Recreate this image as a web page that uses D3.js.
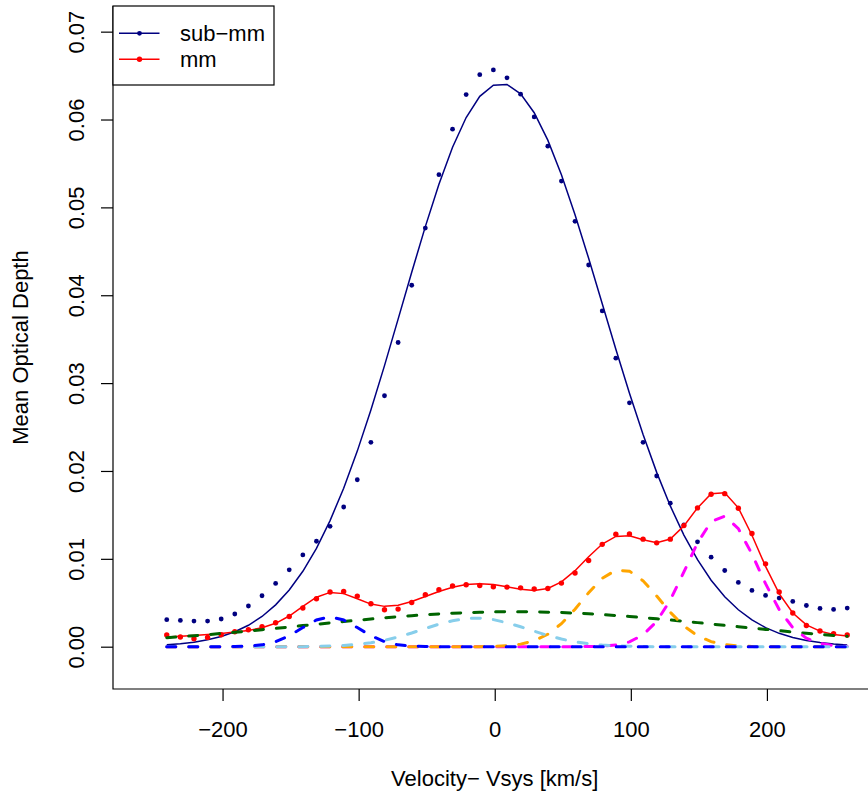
<!DOCTYPE html>
<html><head><meta charset="utf-8">
<script src="https://cdn.jsdelivr.net/npm/d3@7"></script>
<style>
html,body{margin:0;padding:0;background:#fff;}
svg{display:block;}
text{font-family:"Liberation Sans",Arial,Helvetica,sans-serif;fill:#000;}
</style></head>
<body>
<script>
// ---- data ----
const velocity = [-241,-231,-221,-211,-201,-191,-181,-171,-161,-151,-141,-131,-121,-111,-101,-91,-81,-71,-61,-51,-41,-31,-21,-11,-1,9,19,29,39,49,59,69,79,89,99,109,119,129,139,149,159,169,179,189,199,209,219,229,239,249,259];

const subObs = [0.00307,0.00299,0.00292,0.00292,0.00315,0.00372,0.00463,0.0058,0.0072,0.00875,
0.01045,0.0120,0.0137,0.0159,0.0190,0.02326,0.02856,0.03462,0.04114,0.04765,
0.05372,0.0589,0.06284,0.0651,0.06565,0.06474,0.06288,0.0603,0.05697,0.05299,
0.04841,0.04344,0.03822,0.03284,0.02776,0.02326,0.01943,0.01633,0.01386,0.01193,
0.01019,0.00867,0.00731,0.0064,0.00583,0.00553,0.00515,0.00469,0.00435,0.00424,0.0044];

const subFit = [0.00021,0.00033,0.00051,0.00078,0.00116,0.0017,0.00244,0.00344,0.00476,0.00645,
0.00858,0.0112,0.01435,0.01804,0.02226,0.02694,0.03199,0.03728,0.04262,0.04781,
0.05263,0.05684,0.06023,0.06264,0.06391,0.06399,0.06292,0.06077,0.05765,0.05372,
0.04917,0.0442,0.03904,0.03386,0.02885,0.02414,0.01984,0.01602,0.0127,0.0099,
0.00757,0.00569,0.0042,0.00305,0.00217,0.00152,0.00104,0.0007,0.00047,0.0003,0.00019];

const mmObs = [0.00133,0.00110,0.00091,0.00106,0.00136,0.00170,0.00193,0.00227,0.00273,0.00344,
0.00440,0.00545,0.00622,0.00628,0.00576,0.00489,0.00420,0.00428,0.00503,0.00591,
0.00648,0.00690,0.00705,0.00697,0.00682,0.00678,0.00670,0.00656,0.00663,0.00724,
0.00838,0.00981,0.01165,0.01281,0.01284,0.01224,0.01182,0.01224,0.01378,0.01580,
0.01735,0.01742,0.01576,0.01288,0.00943,0.00622,0.00383,0.00242,0.00178,0.00148,0.00133];

const mmFit = [0.00110,0.00118,0.00127,0.00138,0.00151,0.00166,0.00185,0.00215,0.00266,0.00349,
0.00458,0.00563,0.00618,0.00604,0.00545,0.00485,0.00459,0.00473,0.00515,0.00572,
0.00629,0.00677,0.00708,0.00717,0.00708,0.00682,0.00653,0.0064,0.00663,0.00738,
0.00865,0.01023,0.01168,0.01255,0.01263,0.01218,0.01182,0.01226,0.01375,0.0158,
0.0174,0.01752,0.0158,0.01269,0.00914,0.00604,0.00383,0.00249,0.00177,0.00139,0.00122];

const compBlue = [0,0,0,0,0,0.000015,0.000062,0.00021,0.00058,0.00125,
0.00218,0.00304,0.0034,0.00304,0.00218,0.00125,0.00058,0.00021,0.000062,0.000015,
0,0,0,0,0,0,0,0,0,0,
0,0,0,0,0,0,0,0,0,0,
0,0,0,0,0,0,0,0,0,0,0];

const compSky = [0,0,0,0,0,0,0,0,0,0,
0,0.000034,0.000072,0.00014,0.00026,0.00045,0.00073,0.0011,0.00156,0.00207,
0.00256,0.00296,0.00321,0.00325,0.00308,0.00273,0.00227,0.00176,0.00128,0.00087,
0.00055,0.00033,0.00018,0.000095,0.000046,0.00002,0,0,0,0,
0,0,0,0,0,0,0,0,0,0,0];

const compOrange = [0,0,0,0,0,0,0,0,0,0,
0,0,0,0,0,0,0,0,0,0,
0,0,0,0,0.000035,0.00011,0.00029,0.00068,0.00142,0.00262,
0.00427,0.00614,0.00779,0.00871,0.0086,0.0075,0.00577,0.00392,0.00235,0.00124,
0.00058,0.00024,0.000087,0.000028,0,0,0,0,0,0,0];

const compMagenta = [0,0,0,0,0,0,0,0,0,0,
0,0,0,0,0,0,0,0,0,0,
0,0,0,0,0,0,0,0,0,0,
0,0.000016,0.000059,0.00019,0.00055,0.00135,0.00287,0.00531,0.00851,0.01182,
0.01423,0.01486,0.01344,0.01055,0.00717,0.00423,0.00216,0.00096,0.00037,0.00012,0.000035];

const compGreen = [0.00102,0.00113,0.00125,0.00137,0.00151,0.00164,0.00179,0.00194,0.00209,0.00224,
0.0024,0.00255,0.00271,0.00286,0.00301,0.00315,0.00329,0.00341,0.00353,0.00364,
0.00373,0.00381,0.00387,0.00392,0.00396,0.00398,0.00398,0.00396,0.00393,0.00389,
0.00382,0.00375,0.00365,0.00355,0.00344,0.00331,0.00318,0.00304,0.00289,0.00274,
0.00258,0.00243,0.00227,0.00212,0.00197,0.00182,0.00167,0.00153,0.0014,0.00127,0.00118];

const xTicks = [-200,-100,0,100,200];
const yTicks = [0,0.01,0.02,0.03,0.04,0.05,0.06,0.07];
const yTickLabels = ["0.00","0.01","0.02","0.03","0.04","0.05","0.06","0.07"];
const legendLabels = ["sub\u2212mm","mm"];
const xTitle = "Velocity\u2212 Vsys [km/s]";
const yTitle = "Mean Optical Depth";

// ---- layout ----
const W = 868, H = 798;
const box = {left:113, top:6, right:906, bottom:689};
const FS = 22;

const x = d3.scaleLinear().domain([-280.5, 302.2]).range([box.left, box.right]);
const y = d3.scaleLinear().domain([-0.004815, 0.07292]).range([box.bottom, box.top]);

const svg = d3.select("body").append("svg").attr("width", W).attr("height", H);

// axes
const xAxis = d3.axisBottom(x).tickValues(xTicks).tickSize(12).tickPadding(20)
  .tickFormat(d => (d < 0 ? "\u2212" + Math.abs(d) : String(d)));
const gx = svg.append("g").attr("transform", `translate(0,${box.bottom})`).call(xAxis);
gx.select(".domain").remove();
gx.selectAll(".tick line").attr("stroke", "#000").attr("stroke-width", 1.2);
gx.selectAll(".tick text").attr("font-size", FS).attr("dy", "0.71em")
  .attr("font-family", '"Liberation Sans",Arial,sans-serif').attr("fill", "#000");

const yAxis = d3.axisLeft(y).tickValues(yTicks).tickSize(12)
  .tickFormat((d, i) => yTickLabels[i]);
const gy = svg.append("g").attr("transform", `translate(${box.left},0)`).call(yAxis);
gy.select(".domain").remove();
gy.selectAll(".tick line").attr("stroke", "#000").attr("stroke-width", 1.2);
gy.selectAll(".tick text")
  .attr("x", null).attr("dy", null)
  .attr("font-size", FS).attr("fill", "#000")
  .attr("font-family", '"Liberation Sans",Arial,sans-serif')
  .attr("text-anchor", "middle")
  .attr("transform", "translate(-29,0) rotate(-90)");

// titles
svg.append("text").attr("x", (x(-200)+x(200))/2).attr("y", 786)
  .attr("text-anchor", "middle").attr("font-size", FS).text(xTitle);
svg.append("text").attr("transform", `translate(28,${(box.top+box.bottom)/2}) rotate(-90)`)
  .attr("text-anchor", "middle").attr("font-size", FS).text(yTitle);

// clip
svg.append("clipPath").attr("id", "clip").append("rect")
  .attr("x", box.left).attr("y", 0).attr("width", box.right-box.left).attr("height", box.bottom);
const plot = svg.append("g").attr("clip-path", "url(#clip)");

const line = arr => d3.line().x((d, i) => x(velocity[i])).y(d => y(d))(arr);

// sub-mm
plot.append("path").attr("d", line(subFit)).attr("fill", "none")
  .attr("stroke", "#000080").attr("stroke-width", 1.5);
plot.selectAll(".sp").data(subObs).enter().append("circle")
  .attr("cx", (d, i) => x(velocity[i])).attr("cy", d => y(d)).attr("r", 2.4).attr("fill", "#000080");

// mm
plot.append("path").attr("d", line(mmFit)).attr("fill", "none")
  .attr("stroke", "#ff0000").attr("stroke-width", 1.5);
plot.selectAll(".mp").data(mmObs).enter().append("circle")
  .attr("cx", (d, i) => x(velocity[i])).attr("cy", d => y(d)).attr("r", 2.7).attr("fill", "#ff0000");

// components
const comps = [
  {v: compGreen, c: "#006400"},
  {v: compMagenta, c: "#ff00ff"},
  {v: compOrange, c: "#ffa500"},
  {v: compSky, c: "#87ceeb"},
  {v: compBlue, c: "#0000ff"}
];
comps.forEach(cp => {
  plot.append("path").attr("d", line(cp.v)).attr("fill", "none")
    .attr("stroke", cp.c).attr("stroke-width", 3)
    .attr("stroke-dasharray", "9,13").attr("stroke-linecap", "round");
});

// frame: left and bottom edges (top/right fall outside the cropped picture)
svg.append("path")
  .attr("d", `M${box.left},${box.top}V${box.bottom}H${W+2}`)
  .attr("fill", "none").attr("stroke", "#000").attr("stroke-width", 1.2);

// legend
const lg = svg.append("g");
lg.append("rect").attr("x", 113).attr("y", 6).attr("width", 161).attr("height", 79)
  .attr("fill", "#fff").attr("stroke", "#000").attr("stroke-width", 1.2);
const legCols = ["#000080", "#ff0000"];
const legY = [33.3, 59.3];
legendLabels.forEach((lab, i) => {
  lg.append("line").attr("x1", 119).attr("x2", 159.5).attr("y1", legY[i]).attr("y2", legY[i])
    .attr("stroke", legCols[i]).attr("stroke-width", 1.5);
  lg.append("circle").attr("cx", 139.5).attr("cy", legY[i]).attr("r", i === 0 ? 2.4 : 2.7).attr("fill", legCols[i]);
  lg.append("text").attr("x", 180).attr("y", legY[i]).attr("dy", "0.35em")
    .attr("font-size", FS).text(lab);
});
</script>
</body></html>
